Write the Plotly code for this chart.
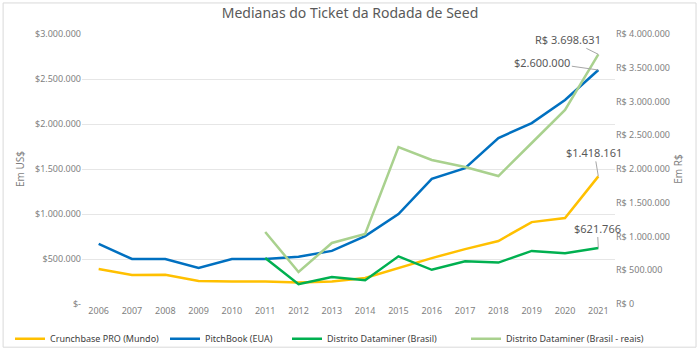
import plotly.graph_objects as go

years = [str(y) for y in range(2006, 2022)]
crunchbase = [389000, 322000, 325000, 255000, 250000, 250000, 240000, 250000, 290000,
              400000, 510000, 610000, 700000, 910000, 955000, 1418161]
pitchbook = [667000, 500000, 500000, 400000, 500000, 500000, 525000, 590000, 755000,
             1000000, 1390000, 1510000, 1844000, 2010000, 2267000, 2600000]
distrito_years = years[5:]
distrito = [510000, 220000, 300000, 265000, 530000, 380000, 475000, 460000, 590000, 565000, 621766]
distrito_reais = [1067000, 474000, 904000, 1037000, 2326000, 2133000, 2030000, 1896000,
                  2385000, 2874000, 3698631]

left_ticks = [0, 500000, 1000000, 1500000, 2000000, 2500000, 3000000]
left_labels = ["$-", "$500.000", "$1.000.000", "$1.500.000", "$2.000.000", "$2.500.000", "$3.000.000"]
right_ticks = [0, 500000, 1000000, 1500000, 2000000, 2500000, 3000000, 3500000, 4000000]
right_labels = ["R$ 0", "R$ 500.000", "R$ 1.000.000", "R$ 1.500.000", "R$ 2.000.000",
                "R$ 2.500.000", "R$ 3.000.000", "R$ 3.500.000", "R$ 4.000.000"]

FONT = "Noto Sans"
GRAY = "#7f7f7f"

fig = go.Figure()
fig.add_trace(go.Scatter(x=years, y=crunchbase, name="Crunchbase PRO (Mundo)", mode="lines",
                         line=dict(color="#FFC000", width=2.5), legend="legend"))
fig.add_trace(go.Scatter(x=years, y=pitchbook, name="PitchBook (EUA)", mode="lines",
                         line=dict(color="#0070C0", width=2.5), legend="legend2"))
fig.add_trace(go.Scatter(x=distrito_years, y=distrito, name="Distrito Dataminer (Brasil)", mode="lines",
                         line=dict(color="#00B050", width=2.5), legend="legend3"))
fig.add_trace(go.Scatter(x=distrito_years, y=distrito_reais, name="Distrito Dataminer (Brasil - reais)",
                         mode="lines", yaxis="y2", line=dict(color="#A9D18E", width=2.5), legend="legend4"))

last = len(years) - 1
ann_font = dict(family=FONT, size=11, color="#595959")
anns = [
    dict(x=last, y=distrito_reais[-1], xref="x", yref="y2", text="R$ 3.698.631", ax=-30, ay=-15),
    dict(x=last, y=pitchbook[-1], xref="x", yref="y", text="$2.600.000", ax=-56, ay=-8),
    dict(x=last, y=crunchbase[-1], xref="x", yref="y", text="$1.418.161", ax=-4, ay=-24),
    dict(x=last, y=distrito[-1], xref="x", yref="y", text="$621.766", ax=-1, ay=-20),
]
annotations = []
for a in anns:
    a.update(showarrow=True, arrowhead=0, arrowcolor="#a6a6a6", arrowwidth=1,
             font=ann_font, axref="pixel", ayref="pixel")
    annotations.append(a)

def leg(xpx):
    return dict(orientation="h", x=xpx / 700, xanchor="left", xref="container",
                y=0.035, yanchor="middle", yref="container",
                font=dict(family=FONT, size=9, color="#404040"), itemwidth=30,
                bgcolor="rgba(0,0,0,0)")

fig.update_layout(
    width=700, height=351,
    margin=dict(l=82, r=85, t=34, b=47, autoexpand=False),
    paper_bgcolor="white", plot_bgcolor="white",
    annotations=annotations,
    title=dict(text="Medianas do Ticket da Rodada de Seed", x=0.5, xanchor="center",
               y=0.963, yanchor="middle", font=dict(family=FONT, size=14, color="#595959")),
    showlegend=True,
    legend=leg(10), legend2=leg(165), legend3=leg(287), legend4=leg(466),
    xaxis=dict(type="category", range=[-0.5, 15.5], showgrid=False, showline=False,
               ticks="", tickfont=dict(family=FONT, size=9, color=GRAY)),
    yaxis=dict(range=[0, 3000000], tickvals=left_ticks, ticktext=left_labels,
               showgrid=True, gridcolor="#e6e6e6", gridwidth=1, zeroline=False,
               tickfont=dict(family=FONT, size=9, color=GRAY),
               title=dict(text="Em US$", font=dict(family=FONT, size=10, color=GRAY), standoff=8)),
    yaxis2=dict(range=[0, 4000000], tickvals=right_ticks, ticktext=right_labels,
                overlaying="y", side="right", showgrid=False, zeroline=False,
                tickfont=dict(family=FONT, size=9, color=GRAY),
                title=dict(text="Em R$", font=dict(family=FONT, size=10, color=GRAY), standoff=6)),
)
fig.add_shape(type="rect", xref="paper", yref="paper", x0=-0.148, x1=1.152, y0=-0.16, y1=1.115,
              line=dict(color="#d9d9d9", width=1), layer="below")
fig.write_html("out.html")
